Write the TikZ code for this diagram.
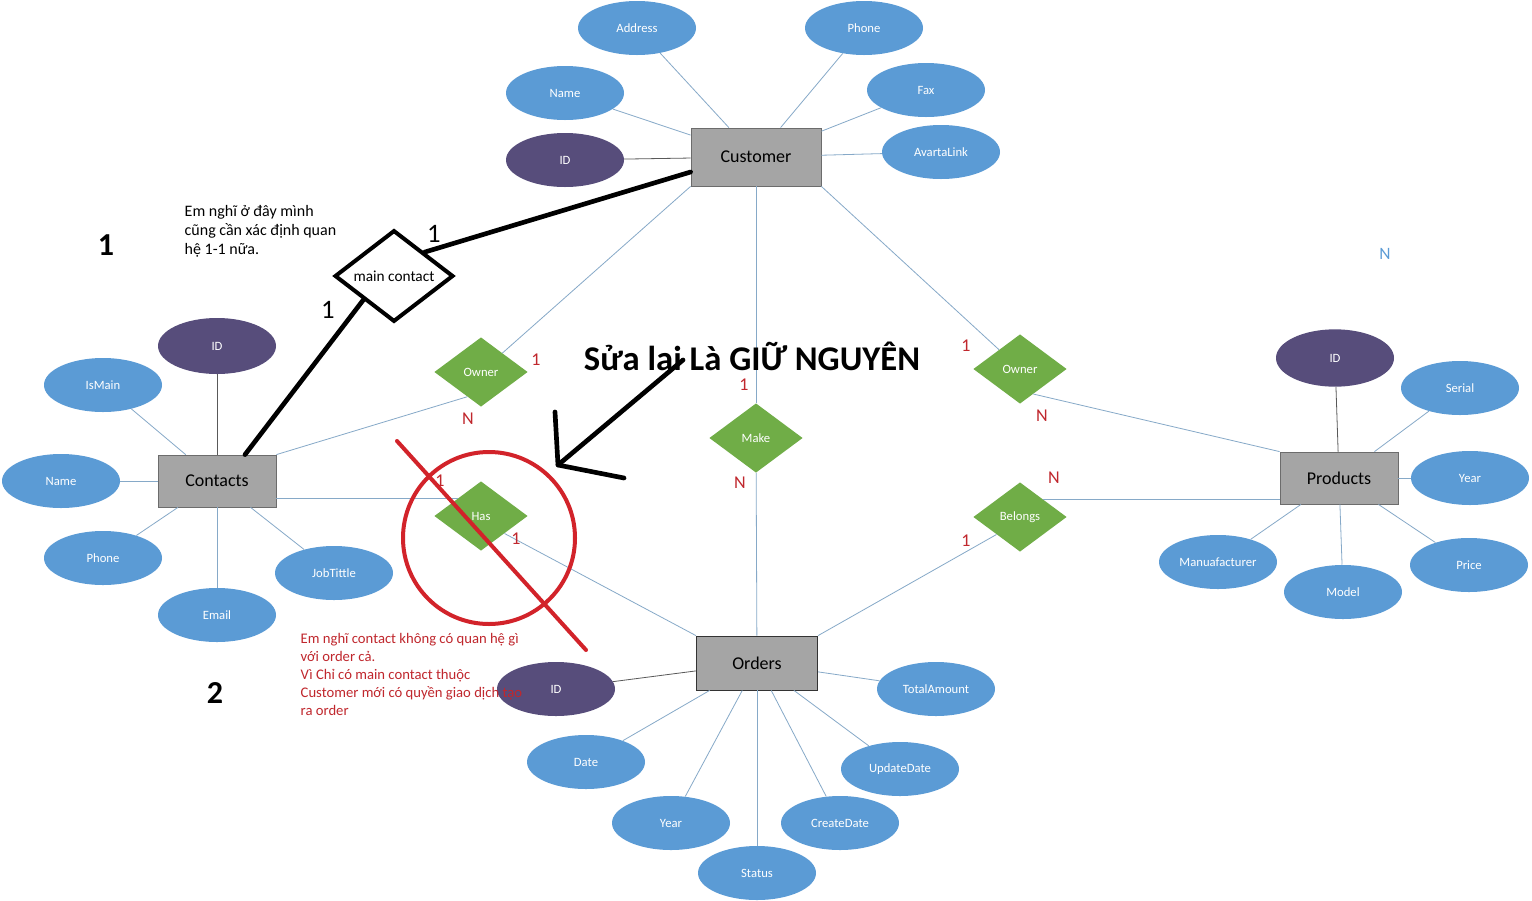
\documentclass[tikz,border=0pt]{standalone}
\usepackage{fontspec}
\setmainfont{Carlito}
\usetikzlibrary{shapes.geometric}
\definecolor{attrblue}{HTML}{5B9BD5}
\definecolor{keypurple}{HTML}{574D7B}
\definecolor{relgreen}{HTML}{70AD47}
\definecolor{entgray}{HTML}{A5A5A5}
\definecolor{linkblue}{HTML}{86A9C8}
\definecolor{cardred}{HTML}{C0272D}
\definecolor{markred}{HTML}{D2232A}
\begin{document}
\begin{tikzpicture}[x=0.75pt,y=-0.75pt,
        attr/.style={ellipse,fill=attrblue,text=white,minimum width=88.5pt,minimum height=40.5pt,inner sep=0pt,font=\fontsize{9.5}{11}\selectfont},
        keyattr/.style={attr,fill=keypurple},
        entity/.style={rectangle,fill=entgray,draw=gray!85!black,line width=0.6pt,minimum width=88.5pt,minimum height=39pt,font=\fontsize{13.5}{15}\selectfont},
        rel/.style={diamond,fill=relgreen,text=white,minimum width=70pt,minimum height=52pt,inner sep=0pt,font=\fontsize{9.5}{11}\selectfont},
        link/.style={linkblue,line width=0.6pt},
        keylink/.style={gray!70!black,line width=0.6pt},
        card/.style={text=cardred,font=\fontsize{13.5}{15}\selectfont},
        penline/.style={black,line width=3.5pt,line cap=round,line join=round}]
                \fill[white] (0,0) rectangle (1532,900);
                \useasboundingbox (0,0) rectangle (1532,900);

                \node[entity,minimum width=97.5pt,minimum height=43.5pt] (cust) at (756,157) {Customer};
                \node[attr] (cust-addr) at (637,28) {Address};
                \node[attr] (cust-phone) at (864,28) {Phone};
                \node[attr] (cust-name) at (565,93) {Name};
                \node[attr] (cust-fax) at (926,90) {Fax};
                \node[keyattr] (cust-id) at (565,160) {ID};
                \node[attr] (cust-link) at (941,152) {AvartaLink};
                \draw[link] (cust) -- (cust-addr);
                \draw[link] (cust) -- (cust-phone);
                \draw[link] (cust) -- (cust-name);
                \draw[link] (cust) -- (cust-fax);
                \draw[keylink] (cust) -- (cust-id);
                \draw[link] (cust) -- (cust-link);

                \node[entity] (con) at (217,481) {Contacts};
                \node[keyattr,minimum height=42pt] (con-id) at (217,346) {ID};
                \node[attr] (con-main) at (103,385) {IsMain};
                \node[attr] (con-name) at (61,481) {Name};
                \node[attr] (con-phone) at (103,558) {Phone};
                \node[attr] (con-mail) at (217,615) {Email};
                \node[attr] (con-job) at (334,573) {JobTittle};
                \draw[keylink] (con) -- (con-id);
                \draw[link] (con) -- (con-main);
                \draw[link] (con) -- (con-name);
                \draw[link] (con) -- (con-phone);
                \draw[link] (con) -- (con-mail);
                \draw[link] (con) -- (con-job);

                \node[entity] (pro) at (1339,478) {Products};
                \node[keyattr,minimum height=43pt] (pro-id) at (1335,358) {ID};
                \node[attr] (pro-serial) at (1460,388) {Serial};
                \node[attr] (pro-year) at (1470,478) {Year};
                \node[attr] (pro-price) at (1469,565) {Price};
                \node[attr] (pro-model) at (1343,592) {Model};
                \node[attr] (pro-maker) at (1218,562) {Manuafacturer};
                \draw[keylink] (pro) -- (pro-id);
                \draw[link] (pro) -- (pro-serial);
                \draw[link] (pro) -- (pro-year);
                \draw[link] (pro) -- (pro-price);
                \draw[link] (pro) -- (pro-model);
                \draw[link] (pro) -- (pro-maker);

                \node[entity,draw=black!80,minimum width=91pt,minimum height=40.5pt] (ord) at (757,663) {Orders};
                \node[keyattr] (ord-id) at (556,689) {ID};
                \node[attr] (ord-total) at (936,689) {TotalAmount};
                \node[attr] (ord-date) at (586,762) {Date};
                \node[attr] (ord-upd) at (900,769) {UpdateDate};
                \node[attr] (ord-year) at (671,823) {Year};
                \node[attr] (ord-create) at (840,823) {CreateDate};
                \node[attr] (ord-status) at (757,873) {Status};
                \draw[keylink] (ord) -- (ord-id);
                \draw[link] (ord) -- (ord-total);
                \draw[link] (ord) -- (ord-date);
                \draw[link] (ord) -- (ord-upd);
                \draw[link] (ord) -- (ord-year);
                \draw[link] (ord) -- (ord-create);
                \draw[link] (ord) -- (ord-status);

                \node[rel] (ownerL) at (481,372) {Owner};
                \node[rel] (has) at (481,516) {Has};
                \node[rel] (make) at (756,438) {Make};
                \node[rel] (ownerR) at (1020,369) {Owner};
                \node[rel] (belongs) at (1020,517) {Belongs};
                \draw[link] (cust.south west) -- (ownerL);
                \draw[link] (ownerL.241) -- (con.north east);
                \draw[link] (con.east |- has.north west) -- (has.north west);
                \draw[link] (has.south east) -- (ord.north west);
                \draw[link] (cust) -- (make);
                \draw[link] (make) -- (ord);
                \draw[link] (cust.south east) -- (ownerR);
                \draw[link] (ownerR.-62) -- (pro.north west);
                \draw[link] (belongs.north east) -- (belongs.north east -| pro.west);
                \draw[link] (belongs.south west) -- (ord.north east);

                \node[card] at (536,360) {1};
                \node[card] at (468,419) {N};
                \node[card] at (440,481) {1};
                \node[card] at (516,539) {1};
                \node[card] at (744,385) {1};
                \node[card] at (740,483) {N};
                \node[card] at (966,346) {1};
                \node[card] at (1042,416) {N};
                \node[card] at (1054,478) {N};
                \node[card] at (966,541) {1};
                \node[text=attrblue,font=\fontsize{13}{15}\selectfont] at (1385,254) {N};

                \node[diamond,draw=black,fill=white,line width=3pt,minimum width=89pt,minimum height=57pt,inner sep=0pt,font=\fontsize{11.5}{13}\selectfont] (mc) at (394,276) {main contact};
                \draw[penline] ([yshift=-11.25pt]cust.west) -- (mc.north east);
                \draw[penline] (mc.south west) -- ([xshift=21pt]con.north);
                \node[font=\fontsize{20}{22}\selectfont] at (434,234) {1};
                \node[font=\fontsize{20}{22}\selectfont] at (328,310) {1};
                \node[align=left,anchor=north west,font=\fontsize{12}{14.25}\selectfont] (note1) at (180,201) {Em nghĩ ở đây mình\\cũng cần xác định quan\\hệ 1-1 nữa.};
                \node[font=\fontsize{24}{26}\selectfont\bfseries] at (106,245) {1};
                \node[font=\fontsize{24}{26}\selectfont\bfseries] at (215,693) {2};

                \node[font=\fontsize{26}{28}\selectfont\bfseries,inner sep=0pt] (fix) at (752,356) {Sửa lai Là GIỮ NGUYÊN};
                \coordinate (arrow-tail) at (683,360);
                \coordinate (arrow-tip) at (558,465);
                \coordinate (barb-up) at (555,412);
                \coordinate (barb-right) at (624,478);
                \draw[penline] (arrow-tail) -- (arrow-tip);
                \draw[penline] (barb-up) -- (arrow-tip) -- (barb-right);

                \node[circle,draw=markred,line width=3pt,minimum size=129pt,inner sep=0pt] (strike) at (489,538) {};
                \coordinate (cross-a) at (397,441);
                \coordinate (cross-b) at (586,650);
                \draw[markred,line width=3pt,line cap=round] (cross-a) -- (cross-b);
                \node[align=left,anchor=north west,text=cardred,font=\fontsize{11}{13.5}\selectfont] (note2) at (296,629) {Em nghĩ contact không có quan hệ gì\\với order cả.\\Vì Chỉ có main contact thuộc\\Customer mới có quyền giao dịch tạo\\ra order};
            \end{tikzpicture}
\end{document}
